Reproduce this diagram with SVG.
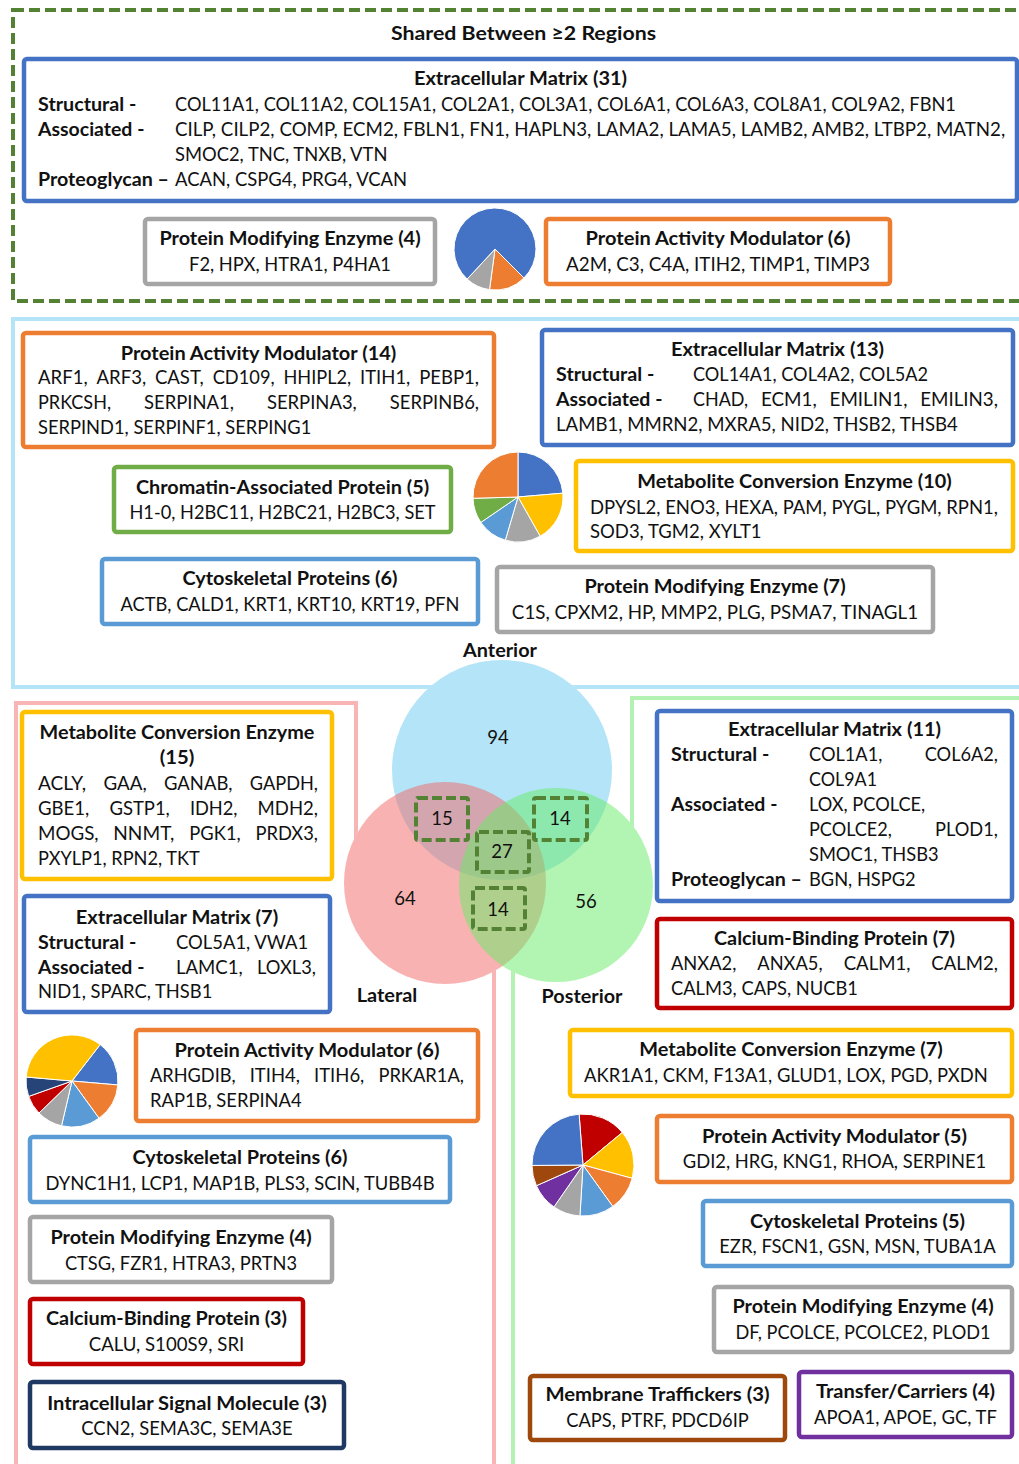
<svg xmlns="http://www.w3.org/2000/svg" width="1019" height="1464" viewBox="0 0 1019 1464">
<style>
.box{fill:#fff;stroke-width:4.5}
.t{font-family:Lato,"Liberation Sans",sans-serif;font-size:19px;fill:#111}
.b{font-weight:700}
.m{text-anchor:middle}
.pie path{stroke:#fff;stroke-width:1}
.vb{fill:none;stroke:#548235;stroke-width:4;stroke-dasharray:10 4}
</style>
<rect width="1019" height="1464" fill="#fff"/>
<g id="region-frames" fill="none" stroke-width="4">
 <rect x="13" y="10" width="1030" height="291" stroke="#548235" stroke-dasharray="11 5"/>
 <rect x="13" y="319" width="1030" height="368" stroke="#b4e4f7"/>
 <path d="M16,1470 V703 H356 V880" stroke="#f9b4b4"/>
 <path d="M494,960 V1470" stroke="#f9b4b4"/>
 <path d="M1030,698 H632 V917" stroke="#b4f2b4"/>
 <path d="M513,960 V1470" stroke="#b4f2b4"/>
</g>
<g id="connectors"></g>

<text class="t b m" x="523.5" y="40" textLength="265" lengthAdjust="spacingAndGlyphs">Shared Between ≥2 Regions</text>

<g id="shared-ecm">
 <rect class="box" x="24" y="59" width="993" height="142" rx="3" stroke="#4472c4"/>
 <text class="t b m" x="520.5" y="85" textLength="213.1" lengthAdjust="spacingAndGlyphs">Extracellular Matrix (31)</text>
 <text class="t b" x="38" y="111" textLength="98.4" lengthAdjust="spacingAndGlyphs">Structural -</text>
 <text class="t b" x="38" y="136" textLength="106.4" lengthAdjust="spacingAndGlyphs">Associated -</text>
 <text class="t b" x="38" y="186" textLength="131" lengthAdjust="spacingAndGlyphs">Proteoglycan –</text>
 <text class="t" x="175" y="111" textLength="780.9" lengthAdjust="spacingAndGlyphs">COL11A1, COL11A2, COL15A1, COL2A1, COL3A1, COL6A1, COL6A3, COL8A1, COL9A2, FBN1</text>
 <text class="t" x="175" y="136" textLength="830.2" lengthAdjust="spacingAndGlyphs">CILP, CILP2, COMP, ECM2, FBLN1, FN1, HAPLN3, LAMA2, LAMA5, LAMB2, AMB2, LTBP2, MATN2,</text>
 <text class="t" x="175" y="161" textLength="212.4" lengthAdjust="spacingAndGlyphs">SMOC2, TNC, TNXB, VTN</text>
 <text class="t" x="175" y="186" textLength="232.1" lengthAdjust="spacingAndGlyphs">ACAN, CSPG4, PRG4, VCAN</text>
</g>
<g id="shared-pme">
 <rect class="box" x="145" y="219" width="290" height="65" rx="3" stroke="#a5a5a5"/>
 <text class="t b m" x="290" y="245" textLength="261.2" lengthAdjust="spacingAndGlyphs">Protein Modifying Enzyme (4)</text>
 <text class="t m" x="290" y="271" textLength="201.9" lengthAdjust="spacingAndGlyphs">F2, HPX, HTRA1, P4HA1</text>
</g>
<g id="shared-pie" class="pie">
 <path d="M495,249 L523.99,277.99 A41,41 0 0 1 489.51,289.63 Z" fill="#ed7d31"/>
 <path d="M495,249 L489.51,289.63 A41,41 0 0 1 467.14,279.08 Z" fill="#a5a5a5"/>
 <path d="M495,249 L467.14,279.08 A41,41 0 1 1 523.99,277.99 Z" fill="#4472c4"/>
</g>
<g id="shared-pam">
 <rect class="box" x="546" y="219" width="344" height="65" rx="3" stroke="#ed7d31"/>
 <text class="t b m" x="718" y="245" textLength="264.8" lengthAdjust="spacingAndGlyphs">Protein Activity Modulator (6)</text>
 <text class="t m" x="718" y="271" textLength="303.9" lengthAdjust="spacingAndGlyphs">A2M, C3, C4A, ITIH2, TIMP1, TIMP3</text>
</g>

<g id="ant-pam">
 <rect class="box" x="23" y="333" width="471" height="114" rx="3" stroke="#ed7d31"/>
 <text class="t b m" x="258.5" y="360" textLength="275.6" lengthAdjust="spacingAndGlyphs">Protein Activity Modulator (14)</text>
 <text class="t" x="38" y="384" textLength="49.6" lengthAdjust="spacingAndGlyphs">ARF1,</text>
 <text class="t" x="96.5" y="384" textLength="49.6" lengthAdjust="spacingAndGlyphs">ARF3,</text>
 <text class="t" x="154.9" y="384" textLength="48.9" lengthAdjust="spacingAndGlyphs">CAST,</text>
 <text class="t" x="212.7" y="384" textLength="61.9" lengthAdjust="spacingAndGlyphs">CD109,</text>
 <text class="t" x="283.5" y="384" textLength="67.7" lengthAdjust="spacingAndGlyphs">HHIPL2,</text>
 <text class="t" x="360" y="384" textLength="50.3" lengthAdjust="spacingAndGlyphs">ITIH1,</text>
 <text class="t" x="419.2" y="384" textLength="59.9" lengthAdjust="spacingAndGlyphs">PEBP1,</text>
 <text class="t" x="38" y="409" textLength="73" lengthAdjust="spacingAndGlyphs">PRKCSH,</text>
 <text class="t" x="144" y="409" textLength="89.9" lengthAdjust="spacingAndGlyphs">SERPINA1,</text>
 <text class="t" x="266.9" y="409" textLength="89.9" lengthAdjust="spacingAndGlyphs">SERPINA3,</text>
 <text class="t" x="389.8" y="409" textLength="89.2" lengthAdjust="spacingAndGlyphs">SERPINB6,</text>
 <text class="t" x="38" y="434" textLength="273.3" lengthAdjust="spacingAndGlyphs">SERPIND1, SERPINF1, SERPING1</text>
</g>
<g id="ant-ecm">
 <rect class="box" x="542" y="330" width="471" height="115" rx="3" stroke="#4472c4"/>
 <text class="t b m" x="777.5" y="356" textLength="213.1" lengthAdjust="spacingAndGlyphs">Extracellular Matrix (13)</text>
 <text class="t b" x="556" y="381" textLength="98.4" lengthAdjust="spacingAndGlyphs">Structural -</text>
 <text class="t" x="693" y="381" textLength="235" lengthAdjust="spacingAndGlyphs">COL14A1, COL4A2, COL5A2</text>
 <text class="t b" x="556" y="406" textLength="106.4" lengthAdjust="spacingAndGlyphs">Associated -</text>
 <text class="t" x="693" y="406" textLength="55.1" lengthAdjust="spacingAndGlyphs">CHAD,</text>
 <text class="t" x="760.9" y="406" textLength="55.8" lengthAdjust="spacingAndGlyphs">ECM1,</text>
 <text class="t" x="829.6" y="406" textLength="77.8" lengthAdjust="spacingAndGlyphs">EMILIN1,</text>
 <text class="t" x="920.2" y="406" textLength="77.8" lengthAdjust="spacingAndGlyphs">EMILIN3,</text>
 <text class="t" x="556" y="431" textLength="401.8" lengthAdjust="spacingAndGlyphs">LAMB1, MMRN2, MXRA5, NID2, THSB2, THSB4</text>
</g>
<g id="ant-chromatin">
 <rect class="box" x="114" y="467" width="337" height="65" rx="3" stroke="#70ad47"/>
 <text class="t b m" x="282.5" y="494" textLength="293.2" lengthAdjust="spacingAndGlyphs">Chromatin-Associated Protein (5)</text>
 <text class="t m" x="282.5" y="519" textLength="306.1" lengthAdjust="spacingAndGlyphs">H1-0, H2BC11, H2BC21, H2BC3, SET</text>
</g>
<g id="ant-pie" class="pie">
 <path d="M518,497 L518,452 A45,45 0 0 1 562.83,493.15 Z" fill="#4472c4"/>
 <path d="M518,497 L562.83,493.15 A45,45 0 0 1 540.13,536.19 Z" fill="#ffc000"/>
 <path d="M518,497 L540.13,536.19 A45,45 0 0 1 505.32,540.18 Z" fill="#a5a5a5"/>
 <path d="M518,497 L505.32,540.18 A45,45 0 0 1 480.85,522.40 Z" fill="#5b9bd5"/>
 <path d="M518,497 L480.85,522.40 A45,45 0 0 1 473.02,498.29 Z" fill="#70ad47"/>
 <path d="M518,497 L473.02,498.29 A45,45 0 0 1 518,452 Z" fill="#ed7d31"/>
</g>
<g id="ant-mce">
 <rect class="box" x="576" y="461" width="437" height="90" rx="3" stroke="#ffc000"/>
 <text class="t b m" x="794.5" y="488" textLength="314.3" lengthAdjust="spacingAndGlyphs">Metabolite Conversion Enzyme (10)</text>
 <text class="t" x="590" y="514" textLength="408" lengthAdjust="spacingAndGlyphs">DPYSL2, ENO3, HEXA, PAM, PYGL, PYGM, RPN1,</text>
 <text class="t" x="590" y="538" textLength="171.6" lengthAdjust="spacingAndGlyphs">SOD3, TGM2, XYLT1</text>
</g>
<g id="ant-cyto">
 <rect class="box" x="102" y="559" width="376" height="65" rx="3" stroke="#5b9bd5"/>
 <text class="t b m" x="290" y="585" textLength="215.1" lengthAdjust="spacingAndGlyphs">Cytoskeletal Proteins (6)</text>
 <text class="t m" x="290" y="611" textLength="338.9" lengthAdjust="spacingAndGlyphs">ACTB, CALD1, KRT1, KRT10, KRT19, PFN</text>
</g>
<g id="ant-pme">
 <rect class="box" x="497" y="567" width="436" height="65" rx="3" stroke="#a5a5a5"/>
 <text class="t b m" x="715" y="593" textLength="261.2" lengthAdjust="spacingAndGlyphs">Protein Modifying Enzyme (7)</text>
 <text class="t m" x="715" y="619" textLength="406.3" lengthAdjust="spacingAndGlyphs">C1S, CPXM2, HP, MMP2, PLG, PSMA7, TINAGL1</text>
</g>

<g id="venn">
 <g fill="#fff"><circle cx="502" cy="770" r="110"/><circle cx="445" cy="883" r="101"/><circle cx="556" cy="885" r="97"/></g>
 <circle cx="502" cy="770" r="110" fill="#69c9ef" fill-opacity="0.5"/>
 <circle cx="445" cy="883" r="101" fill="#f16565" fill-opacity="0.5"/>
 <circle cx="556" cy="885" r="97" fill="#65eb65" fill-opacity="0.5"/>
 <rect class="vb" x="416" y="798" width="52" height="42" rx="2"/>
 <rect class="vb" x="534" y="798" width="53" height="42" rx="2"/>
 <rect class="vb" x="477" y="832" width="52" height="40" rx="2"/>
 <rect class="vb" x="473" y="888" width="52" height="41" rx="2"/>
 <text class="t m" x="498" y="744" textLength="21.5" lengthAdjust="spacingAndGlyphs">94</text>
 <text class="t m" x="442" y="825" textLength="21.5" lengthAdjust="spacingAndGlyphs">15</text>
 <text class="t m" x="560" y="825" textLength="21.5" lengthAdjust="spacingAndGlyphs">14</text>
 <text class="t m" x="502" y="858" textLength="21.5" lengthAdjust="spacingAndGlyphs">27</text>
 <text class="t m" x="498" y="916" textLength="21.5" lengthAdjust="spacingAndGlyphs">14</text>
 <text class="t m" x="405" y="905" textLength="21.5" lengthAdjust="spacingAndGlyphs">64</text>
 <text class="t m" x="586" y="908" textLength="21.5" lengthAdjust="spacingAndGlyphs">56</text>
 <text class="t b m" x="500" y="657" textLength="73.9" lengthAdjust="spacingAndGlyphs">Anterior</text>
 <text class="t b m" x="387" y="1002" textLength="60.7" lengthAdjust="spacingAndGlyphs">Lateral</text>
 <text class="t b m" x="582" y="1003" textLength="80.8" lengthAdjust="spacingAndGlyphs">Posterior</text>
</g>

<g id="lat-mce">
 <rect class="box" x="22" y="712" width="310" height="167" rx="3" stroke="#ffc000"/>
 <text class="t b m" x="177" y="739" textLength="274.8" lengthAdjust="spacingAndGlyphs">Metabolite Conversion Enzyme</text>
 <text class="t b m" x="177" y="764" textLength="34.7" lengthAdjust="spacingAndGlyphs">(15)</text>
 <text class="t" x="38" y="790" textLength="48.1" lengthAdjust="spacingAndGlyphs">ACLY,</text>
 <text class="t" x="103.5" y="790" textLength="43.2" lengthAdjust="spacingAndGlyphs">GAA,</text>
 <text class="t" x="164" y="790" textLength="68.5" lengthAdjust="spacingAndGlyphs">GANAB,</text>
 <text class="t" x="249.8" y="790" textLength="68.2" lengthAdjust="spacingAndGlyphs">GAPDH,</text>
 <text class="t" x="38" y="815" textLength="51.3" lengthAdjust="spacingAndGlyphs">GBE1,</text>
 <text class="t" x="109.4" y="815" textLength="60.4" lengthAdjust="spacingAndGlyphs">GSTP1,</text>
 <text class="t" x="189.9" y="815" textLength="47.6" lengthAdjust="spacingAndGlyphs">IDH2,</text>
 <text class="t" x="257.6" y="815" textLength="60.4" lengthAdjust="spacingAndGlyphs">MDH2,</text>
 <text class="t" x="38" y="840" textLength="60.6" lengthAdjust="spacingAndGlyphs">MOGS,</text>
 <text class="t" x="113.3" y="840" textLength="61.1" lengthAdjust="spacingAndGlyphs">NNMT,</text>
 <text class="t" x="189.3" y="840" textLength="51.4" lengthAdjust="spacingAndGlyphs">PGK1,</text>
 <text class="t" x="255.4" y="840" textLength="62.6" lengthAdjust="spacingAndGlyphs">PRDX3,</text>
 <text class="t" x="38" y="865" textLength="161.7" lengthAdjust="spacingAndGlyphs">PXYLP1, RPN2, TKT</text>
</g>
<g id="lat-ecm">
 <rect class="box" x="24" y="896" width="306" height="116" rx="3" stroke="#4472c4"/>
 <text class="t b m" x="177" y="924" textLength="202.4" lengthAdjust="spacingAndGlyphs">Extracellular Matrix (7)</text>
 <text class="t b" x="38" y="949" textLength="98.4" lengthAdjust="spacingAndGlyphs">Structural -</text>
 <text class="t" x="176" y="949" textLength="132.3" lengthAdjust="spacingAndGlyphs">COL5A1, VWA1</text>
 <text class="t b" x="38" y="974" textLength="106.4" lengthAdjust="spacingAndGlyphs">Associated -</text>
 <text class="t" x="176" y="974" textLength="66.7" lengthAdjust="spacingAndGlyphs">LAMC1,</text>
 <text class="t" x="257.1" y="974" textLength="58.9" lengthAdjust="spacingAndGlyphs">LOXL3,</text>
 <text class="t" x="38" y="998" textLength="174.3" lengthAdjust="spacingAndGlyphs">NID1, SPARC, THSB1</text>
</g>
<g id="lat-pie" class="pie">
 <path d="M72,1081 L100.13,1044.60 A46,46 0 0 1 117.83,1084.98 Z" fill="#4472c4"/>
 <path d="M72,1081 L117.83,1084.98 A46,46 0 0 1 99.00,1118.24 Z" fill="#ed7d31"/>
 <path d="M72,1081 L99.00,1118.24 A46,46 0 0 1 61.54,1125.79 Z" fill="#5b9bd5"/>
 <path d="M72,1081 L61.54,1125.79 A46,46 0 0 1 38.99,1113.03 Z" fill="#a5a5a5"/>
 <path d="M72,1081 L38.99,1113.03 A46,46 0 0 1 28.65,1096.41 Z" fill="#c00000"/>
 <path d="M72,1081 L28.65,1096.41 A46,46 0 0 1 26.17,1077.01 Z" fill="#264478"/>
 <path d="M72,1081 L26.17,1077.01 A46,46 0 0 1 100.13,1044.60 Z" fill="#ffc000"/>
</g>
<g id="lat-pam">
 <rect class="box" x="136" y="1030" width="342" height="91" rx="3" stroke="#ed7d31"/>
 <text class="t b m" x="307" y="1057" textLength="264.8" lengthAdjust="spacingAndGlyphs">Protein Activity Modulator (6)</text>
 <text class="t" x="150" y="1082" textLength="85.6" lengthAdjust="spacingAndGlyphs">ARHGDIB,</text>
 <text class="t" x="249.7" y="1082" textLength="50.3" lengthAdjust="spacingAndGlyphs">ITIH4,</text>
 <text class="t" x="314" y="1082" textLength="50.3" lengthAdjust="spacingAndGlyphs">ITIH6,</text>
 <text class="t" x="378.4" y="1082" textLength="85.6" lengthAdjust="spacingAndGlyphs">PRKAR1A,</text>
 <text class="t" x="150" y="1107" textLength="151.7" lengthAdjust="spacingAndGlyphs">RAP1B, SERPINA4</text>
</g>
<g id="lat-cyto">
 <rect class="box" x="30" y="1137" width="420" height="65" rx="3" stroke="#5b9bd5"/>
 <text class="t b m" x="240" y="1164" textLength="215.1" lengthAdjust="spacingAndGlyphs">Cytoskeletal Proteins (6)</text>
 <text class="t m" x="240" y="1190" textLength="389" lengthAdjust="spacingAndGlyphs">DYNC1H1, LCP1, MAP1B, PLS3, SCIN, TUBB4B</text>
</g>
<g id="lat-pme">
 <rect class="box" x="30" y="1217" width="302" height="65" rx="3" stroke="#a5a5a5"/>
 <text class="t b m" x="181" y="1244" textLength="261.2" lengthAdjust="spacingAndGlyphs">Protein Modifying Enzyme (4)</text>
 <text class="t m" x="181" y="1270" textLength="232.2" lengthAdjust="spacingAndGlyphs">CTSG, FZR1, HTRA3, PRTN3</text>
</g>
<g id="lat-cbp">
 <rect class="box" x="30" y="1299" width="273" height="65" rx="3" stroke="#c00000"/>
 <text class="t b m" x="166.5" y="1325" textLength="241" lengthAdjust="spacingAndGlyphs">Calcium-Binding Protein (3)</text>
 <text class="t m" x="166.5" y="1351" textLength="155.5" lengthAdjust="spacingAndGlyphs">CALU, S100S9, SRI</text>
</g>
<g id="lat-ism">
 <rect class="box" x="30" y="1382" width="314" height="66" rx="3" stroke="#203864"/>
 <text class="t b m" x="187" y="1410" textLength="279.6" lengthAdjust="spacingAndGlyphs">Intracellular Signal Molecule (3)</text>
 <text class="t m" x="187" y="1435" textLength="211.3" lengthAdjust="spacingAndGlyphs">CCN2, SEMA3C, SEMA3E</text>
</g>

<g id="post-ecm">
 <rect class="box" x="657" y="711" width="355" height="190" rx="3" stroke="#4472c4"/>
 <text class="t b m" x="834.5" y="736" textLength="213.1" lengthAdjust="spacingAndGlyphs">Extracellular Matrix (11)</text>
 <text class="t b" x="671" y="761" textLength="98.4" lengthAdjust="spacingAndGlyphs">Structural -</text>
 <text class="t" x="809" y="761" textLength="73.3" lengthAdjust="spacingAndGlyphs">COL1A1,</text>
 <text class="t" x="924.7" y="761" textLength="73.3" lengthAdjust="spacingAndGlyphs">COL6A2,</text>
 <text class="t" x="809" y="786" textLength="68" lengthAdjust="spacingAndGlyphs">COL9A1</text>
 <text class="t b" x="671" y="811" textLength="106.4" lengthAdjust="spacingAndGlyphs">Associated -</text>
 <text class="t" x="809" y="811" textLength="116.2" lengthAdjust="spacingAndGlyphs">LOX, PCOLCE,</text>
 <text class="t" x="809" y="836" textLength="82.9" lengthAdjust="spacingAndGlyphs">PCOLCE2,</text>
 <text class="t" x="935" y="836" textLength="63" lengthAdjust="spacingAndGlyphs">PLOD1,</text>
 <text class="t" x="809" y="861" textLength="129.6" lengthAdjust="spacingAndGlyphs">SMOC1, THSB3</text>
 <text class="t b" x="671" y="886" textLength="131" lengthAdjust="spacingAndGlyphs">Proteoglycan –</text>
 <text class="t" x="809" y="886" textLength="106.7" lengthAdjust="spacingAndGlyphs">BGN, HSPG2</text>
</g>
<g id="post-cbp">
 <rect class="box" x="657" y="919" width="355" height="89" rx="3" stroke="#c00000"/>
 <text class="t b m" x="834.5" y="945" textLength="241" lengthAdjust="spacingAndGlyphs">Calcium-Binding Protein (7)</text>
 <text class="t" x="671" y="970" textLength="65.3" lengthAdjust="spacingAndGlyphs">ANXA2,</text>
 <text class="t" x="757.3" y="970" textLength="65.3" lengthAdjust="spacingAndGlyphs">ANXA5,</text>
 <text class="t" x="843.7" y="970" textLength="66.7" lengthAdjust="spacingAndGlyphs">CALM1,</text>
 <text class="t" x="931.3" y="970" textLength="66.7" lengthAdjust="spacingAndGlyphs">CALM2,</text>
 <text class="t" x="671" y="995" textLength="186.9" lengthAdjust="spacingAndGlyphs">CALM3, CAPS, NUCB1</text>
</g>
<g id="post-mce">
 <rect class="box" x="570" y="1030" width="442" height="66" rx="3" stroke="#ffc000"/>
 <text class="t b m" x="791" y="1056" textLength="303.5" lengthAdjust="spacingAndGlyphs">Metabolite Conversion Enzyme (7)</text>
 <text class="t" x="584" y="1082" textLength="403.8" lengthAdjust="spacingAndGlyphs">AKR1A1, CKM, F13A1, GLUD1, LOX, PGD, PXDN</text>
</g>
<g id="post-pie" class="pie">
 <path d="M583,1165 L579.08,1114.15 A51,51 0 0 1 622.28,1132.47 Z" fill="#c00000"/>
 <path d="M583,1165 L622.28,1132.47 A51,51 0 0 1 632.23,1178.34 Z" fill="#ffc000"/>
 <path d="M583,1165 L632.23,1178.34 A51,51 0 0 1 612.77,1206.41 Z" fill="#ed7d31"/>
 <path d="M583,1165 L612.77,1206.41 A51,51 0 0 1 579.96,1215.91 Z" fill="#5b9bd5"/>
 <path d="M583,1165 L579.96,1215.91 A51,51 0 0 1 553.95,1206.92 Z" fill="#a5a5a5"/>
 <path d="M583,1165 L553.95,1206.92 A51,51 0 0 1 536.40,1185.73 Z" fill="#7030a0"/>
 <path d="M583,1165 L536.40,1185.73 A51,51 0 0 1 532.00,1165.44 Z" fill="#9e480e"/>
 <path d="M583,1165 L532.00,1165.44 A51,51 0 0 1 579.08,1114.15 Z" fill="#4472c4"/>
</g>
<g id="post-pam">
 <rect class="box" x="657" y="1116" width="355" height="66" rx="3" stroke="#ed7d31"/>
 <text class="t b m" x="834.5" y="1143" textLength="264.8" lengthAdjust="spacingAndGlyphs">Protein Activity Modulator (5)</text>
 <text class="t m" x="834.5" y="1168" textLength="303.5" lengthAdjust="spacingAndGlyphs">GDI2, HRG, KNG1, RHOA, SERPINE1</text>
</g>
<g id="post-cyto">
 <rect class="box" x="703" y="1201" width="309" height="65" rx="3" stroke="#5b9bd5"/>
 <text class="t b m" x="857.5" y="1228" textLength="215.1" lengthAdjust="spacingAndGlyphs">Cytoskeletal Proteins (5)</text>
 <text class="t m" x="857.5" y="1253" textLength="276.7" lengthAdjust="spacingAndGlyphs">EZR, FSCN1, GSN, MSN, TUBA1A</text>
</g>
<g id="post-pme">
 <rect class="box" x="714" y="1287" width="298" height="65" rx="3" stroke="#a5a5a5"/>
 <text class="t b m" x="863" y="1313" textLength="261.2" lengthAdjust="spacingAndGlyphs">Protein Modifying Enzyme (4)</text>
 <text class="t m" x="863" y="1339" textLength="255.2" lengthAdjust="spacingAndGlyphs">DF, PCOLCE, PCOLCE2, PLOD1</text>
</g>
<g id="post-membrane">
 <rect class="box" x="530" y="1376" width="255" height="64" rx="3" stroke="#9e480e"/>
 <text class="t b m" x="657.5" y="1401" textLength="224.2" lengthAdjust="spacingAndGlyphs">Membrane Traffickers (3)</text>
 <text class="t m" x="657.5" y="1427" textLength="182.4" lengthAdjust="spacingAndGlyphs">CAPS, PTRF, PDCD6IP</text>
</g>
<g id="post-transfer">
 <rect class="box" x="799" y="1372" width="213" height="65" rx="3" stroke="#7030a0"/>
 <text class="t b m" x="905.5" y="1398" textLength="179.1" lengthAdjust="spacingAndGlyphs">Transfer/Carriers (4)</text>
 <text class="t m" x="905.5" y="1424" textLength="182.9" lengthAdjust="spacingAndGlyphs">APOA1, APOE, GC, TF</text>
</g>
</svg>
